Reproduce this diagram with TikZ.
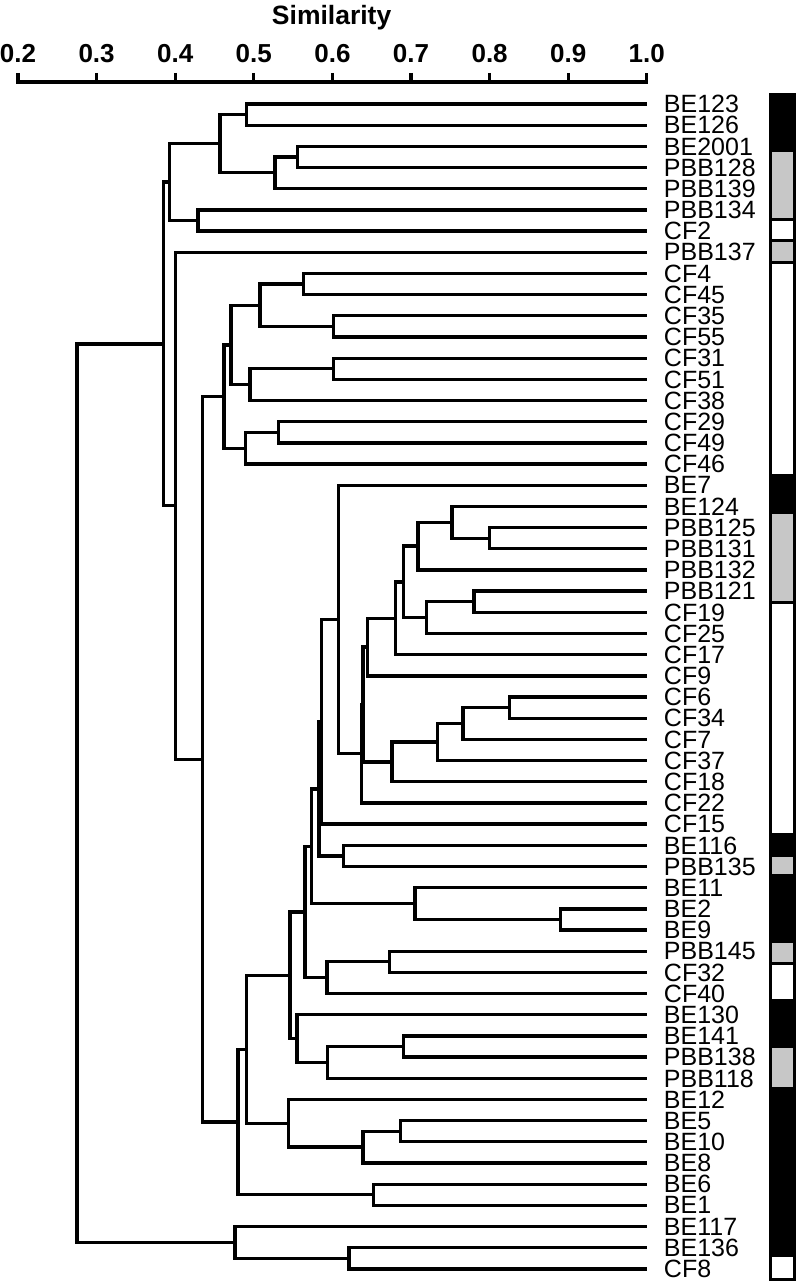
\documentclass[tikz,border=0pt]{standalone}
\usepackage{fontspec}
\setmainfont{Liberation Sans}
\usetikzlibrary{positioning,calc}
\definecolor{barGray}{gray}{0.78}

\begin{document}
\begin{tikzpicture}[x=786pt, y=-1pt, line width=3.3pt,
  clade/.style={line width=3.3pt},
  strain/.style={inner sep=0pt, text depth=0pt, font=\fontsize{25}{25}\selectfont},
  ticklabel/.style={inner sep=0pt, anchor=base, font=\bfseries\fontsize{26}{26}\selectfont},
  axistitle/.style={inner sep=0pt, anchor=base, font=\bfseries\fontsize{26.5}{26.5}\selectfont},
  seg/.style={draw=black, line width=3pt}]
\useasboundingbox (0.1771,0) rectangle (1.1924,1281);
% similarity axis
\draw (0.2,73) -- (0.2,82) -- (1,82) -- (1,73);
\foreach \v in {0.3,0.4,0.5,0.6,0.7,0.8,0.9} \draw (\v,73) -- (\v,82);
\foreach \v [count=\k] in {0.2,0.3,0.4,0.5,0.6,0.7,0.8,0.9,1.0}
  \node[ticklabel] (tick\k) at (\v,62.3) {\v};
\node[axistitle] (simtitle) at (0.599,25) {Similarity};
% strains
\foreach \name [count=\i from 0] in {BE123,BE126,BE2001,PBB128,PBB139,PBB134,CF2,PBB137,
  CF4,CF45,CF35,CF55,CF31,CF51,CF38,CF29,CF49,CF46,BE7,BE124,PBB125,PBB131,PBB132,PBB121,
  CF19,CF25,CF17,CF9,CF6,CF34,CF7,CF37,CF18,CF22,CF15,BE116,PBB135,BE11,BE2,BE9,PBB145,
  CF32,CF40,BE130,BE141,PBB138,PBB118,BE12,BE5,BE10,BE8,BE6,BE1,BE117,BE136,CF8}{
  \coordinate (\name) at (1,{104+21.18*\i});
  \node[strain, right=15.5pt of \name] (\name-t) {\name};
}
% clusters: name/similarity/child/child
\foreach \cl/\s/\ca/\cb in {a1/0.491/BE123/BE126, a2/0.556/BE2001/PBB128, a3/0.527/a2/PBB139,
  a4/0.457/a1/a3, a5/0.429/PBB134/CF2, a6/0.393/a4/a5,
  c1/0.563/CF4/CF45, c2/0.601/CF35/CF55, c3/0.508/c1/c2, c4/0.601/CF31/CF51, c5/0.495/c4/CF38,
  c6/0.471/c3/c5, c7/0.531/CF29/CF49, c8/0.489/c7/CF46, c9/0.462/c6/c8,
  d1/0.800/PBB125/PBB131, d2/0.752/BE124/d1, d3/0.709/d2/PBB132, d4/0.780/PBB121/CF19,
  d5/0.720/d4/CF25, d6/0.690/d3/d5, d7/0.680/d6/CF17, d8/0.645/d7/CF9,
  d9/0.825/CF6/CF34, d10/0.766/d9/CF7, d11/0.734/d10/CF37, d12/0.676/d11/CF18,
  d13/0.639/d8/d12, d14/0.637/d13/CF22, d15/0.608/BE7/d14, d16/0.586/d15/CF15,
  d17/0.614/BE116/PBB135, d18/0.583/d16/d17, d19/0.890/BE2/BE9, d20/0.705/BE11/d19,
  d21/0.573/d18/d20, d22/0.673/PBB145/CF32, d23/0.593/d22/CF40, d24/0.565/d21/d23,
  e1/0.690/BE141/PBB138, e2/0.594/e1/PBB118, e3/0.555/BE130/e2, e4/0.546/d24/e3,
  e5/0.687/BE5/BE10, e6/0.639/e5/BE8, e7/0.544/BE12/e6, e8/0.491/e4/e7,
  e9/0.652/BE6/BE1, e10/0.480/e8/e9,
  f1/0.435/c9/e10, f2/0.400/PBB137/f1, f3/0.385/a6/f2,
  g1/0.621/BE136/CF8, g2/0.476/BE117/g1, root/0.275/f3/g2}{
  \path ($(\ca)!.5!(\cb)$) coordinate (\cl-m);
  \coordinate (\cl) at (\s,0 |- \cl-m);
  \draw[clade] (\ca) -| (\cl) |- (\cb);
}
% source bar
\foreach \top/\bot/\col in {94.5/151/black, 151/220/barGray, 220/241/white, 241/262/barGray,
  262/475/white, 475/512/black, 512/602/barGray, 602/834.5/white, 834.5/855.5/black,
  855.5/875.5/barGray, 875.5/941.5/black, 941.5/963.5/barGray, 963.5/1000.5/white,
  1000.5/1046.5/black, 1046.5/1088.5/barGray, 1088.5/1255.5/black, 1255.5/1279.5/white}
  \draw[seg, fill=\col] (1.1574,\top) rectangle (1.1879,\bot);
\end{tikzpicture}
\end{document}
